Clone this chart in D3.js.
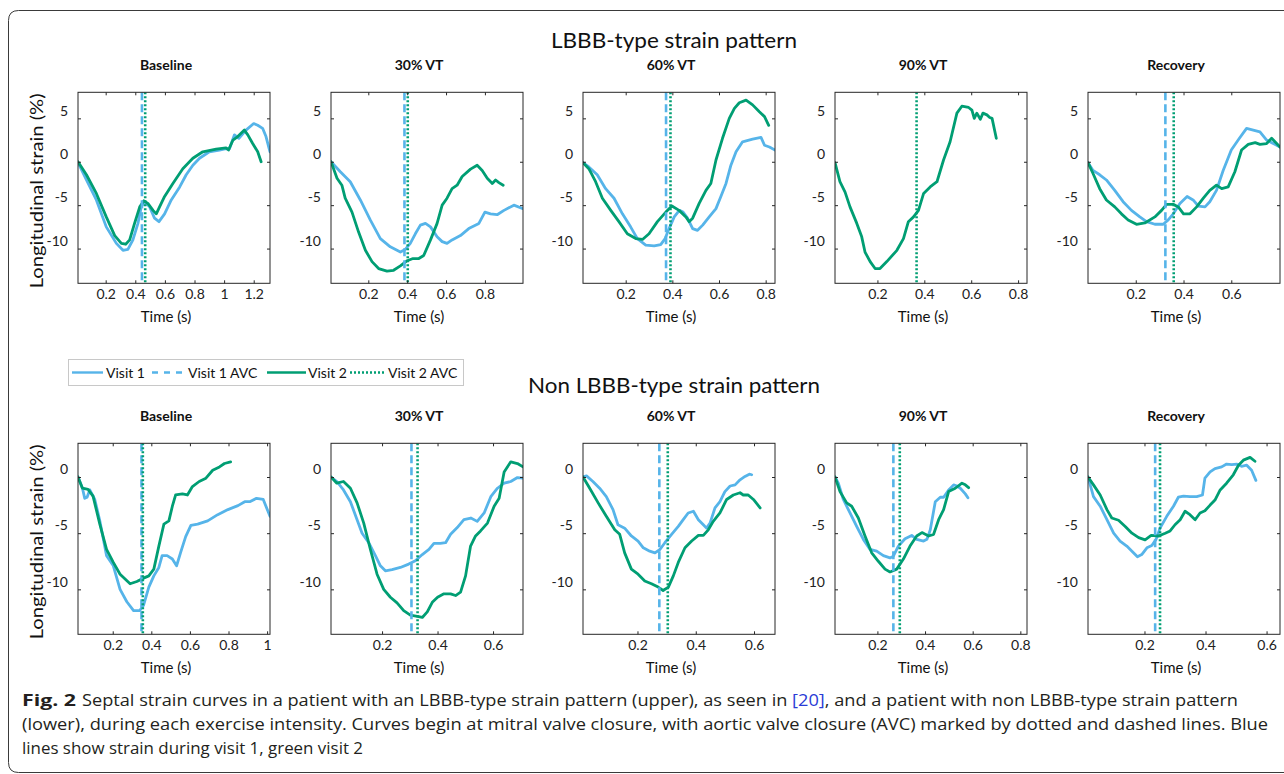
<!DOCTYPE html>
<html><head><meta charset="utf-8">
<script src="https://cdn.jsdelivr.net/npm/d3@7"></script>
<style>body{margin:0;background:#fff;} svg{display:block;}</style>
</head><body>
<svg id="c" width="1284" height="774"></svg>
<script>
// ---------------- DATA ----------------
const rowTitles = ["LBBB-type strain pattern", "Non LBBB-type strain pattern"];
const panelTitles = ["Baseline", "30% VT", "60% VT", "90% VT", "Recovery"];
const seriesNames = ["Visit 1", "Visit 1 AVC", "Visit 2", "Visit 2 AVC"];

const yTicksTop = [-10, -5, 0, 5];
const yTicksBottom = [-10, -5, 0];
const yDomainTop = [-14, 8];
const yDomainBottom = [-14, 3];

const xDomainsTop = [[0.013, 1.31], [0.008, 0.996], [0.017, 0.84], [0.019, 0.838], [0.0, 0.804]];
const xDomainsBottom = [[0.02, 1.015], [0.016, 0.708], [0.013, 0.672], [0.022, 0.828], [0.015, 0.644]];
const xTicksTop = [[0.2, 0.4, 0.6, 0.8, 1, 1.2], [0.2, 0.4, 0.6, 0.8], [0.2, 0.4, 0.6, 0.8], [0.2, 0.4, 0.6, 0.8], [0.2, 0.4, 0.6]];
const xTicksBottom = [[0.2, 0.4, 0.6, 0.8, 1], [0.2, 0.4, 0.6], [0.2, 0.4, 0.6], [0.2, 0.4, 0.6, 0.8], [0.2, 0.4, 0.6]];

// AVC times [visit1, visit2] (null = not shown)
const avcTop = [[0.445, 0.467], [0.386, 0.403], [0.373, 0.392], [null, 0.367], [0.324, 0.359]];
const avcBottom = [[0.349, 0.356], [0.306, 0.328], [0.275, 0.304], [0.267, 0.294], [0.235, 0.251]];

// LBBB-type (upper row) strain curves [time s, strain %]
const lbbbBaselineV1 = [[0.013,-0.1],[0.07,-2.1],[0.137,-4.4],[0.204,-7.5],[0.272,-9.4],[0.317,-10.2],[0.35,-10.1],[0.384,-9.0],[0.418,-7.1],[0.44,-5.2],[0.463,-4.6],[0.497,-5.2],[0.53,-6.5],[0.56,-6.9],[0.598,-6.0],[0.643,-4.4],[0.7,-2.9],[0.744,-1.5],[0.789,-0.4],[0.834,0.4],[0.9,1.15],[0.969,1.35],[1.013,1.5],[1.036,1.5],[1.07,3.1],[1.1,2.7],[1.148,3.65],[1.2,4.4],[1.227,4.2],[1.26,3.85],[1.283,2.9],[1.31,1.15]];
const lbbbBaselineV2 = [[0.013,0],[0.07,-1.5],[0.137,-3.65],[0.204,-6.35],[0.261,-8.5],[0.306,-9.4],[0.335,-9.5],[0.362,-9.0],[0.395,-7.1],[0.43,-5.2],[0.458,-4.5],[0.485,-4.8],[0.52,-5.6],[0.542,-6.0],[0.564,-5.2],[0.598,-4.0],[0.654,-2.5],[0.721,-0.8],[0.789,0.4],[0.856,1.15],[0.946,1.45],[1.013,1.6],[1.03,1.35],[1.06,2.5],[1.092,2.9],[1.137,3.65],[1.16,3.1],[1.193,2.1],[1.227,1.15],[1.25,0]];
const lbbb30V1 = [[0.008,0],[0.056,-1.15],[0.107,-2.3],[0.159,-4.4],[0.21,-6.7],[0.262,-8.85],[0.313,-9.8],[0.365,-10.4],[0.39,-10.1],[0.416,-9.4],[0.442,-8.3],[0.468,-7.3],[0.494,-7.1],[0.52,-7.5],[0.554,-8.65],[0.58,-9.2],[0.605,-9.4],[0.631,-9.0],[0.674,-8.5],[0.717,-7.7],[0.769,-7.1],[0.8,-5.8],[0.829,-6.0],[0.863,-6.1],[0.898,-5.6],[0.949,-5.0],[0.996,-5.4]];
const lbbb30V2 = [[0.008,0],[0.039,-1.9],[0.064,-2.7],[0.081,-4.2],[0.116,-5.8],[0.15,-8.1],[0.185,-10.2],[0.219,-11.5],[0.253,-12.3],[0.296,-12.6],[0.33,-12.5],[0.365,-12.0],[0.4,-11.4],[0.43,-11.15],[0.46,-11.15],[0.485,-10.8],[0.52,-9.0],[0.554,-7.1],[0.58,-5.0],[0.605,-4.2],[0.631,-3.1],[0.657,-2.7],[0.683,-1.7],[0.726,-0.85],[0.76,-0.4],[0.786,-1.0],[0.812,-1.9],[0.838,-2.5],[0.855,-2.1],[0.872,-2.4],[0.894,-2.7]];
const lbbb60V1 = [[0.017,-0.1],[0.042,-0.6],[0.078,-1.5],[0.114,-3.1],[0.15,-4.2],[0.186,-6.0],[0.221,-7.5],[0.25,-8.85],[0.286,-9.6],[0.322,-9.7],[0.35,-9.55],[0.369,-8.85],[0.386,-7.7],[0.408,-6.35],[0.43,-5.6],[0.446,-5.8],[0.465,-6.5],[0.487,-7.7],[0.508,-7.9],[0.53,-7.3],[0.558,-6.35],[0.587,-5.4],[0.608,-4.0],[0.63,-2.5],[0.651,-0.4],[0.673,1.15],[0.701,2.3],[0.744,2.6],[0.78,2.8],[0.795,1.9],[0.816,1.7],[0.84,1.35]];
const lbbb60V2 = [[0.017,-0.1],[0.042,-0.8],[0.071,-2.3],[0.1,-4.2],[0.136,-5.6],[0.171,-6.9],[0.207,-8.3],[0.243,-8.85],[0.272,-8.95],[0.3,-8.3],[0.336,-6.9],[0.372,-5.8],[0.398,-5.1],[0.429,-5.6],[0.458,-6.35],[0.472,-6.9],[0.487,-6.5],[0.515,-4.8],[0.544,-3.3],[0.565,-2.5],[0.587,0.2],[0.615,2.7],[0.644,5.0],[0.666,6.15],[0.687,6.8],[0.716,7.1],[0.744,6.55],[0.773,5.75],[0.795,5.2],[0.813,4.2]];
const lbbb90V2 = [[0.019,-0.1],[0.04,-2.3],[0.062,-3.5],[0.083,-5.2],[0.112,-7.1],[0.133,-8.65],[0.147,-10.4],[0.169,-11.5],[0.19,-12.3],[0.211,-12.3],[0.24,-11.5],[0.283,-10.2],[0.311,-8.85],[0.332,-6.9],[0.354,-6.35],[0.375,-5.6],[0.397,-3.65],[0.425,-2.9],[0.454,-2.3],[0.482,0.2],[0.51,2.3],[0.539,5.6],[0.56,6.4],[0.589,6.25],[0.603,5.95],[0.613,5.0],[0.624,5.6],[0.639,4.9],[0.65,5.6],[0.667,5.4],[0.679,5.1],[0.689,5.0],[0.707,2.7]];
const lbbbRecV1 = [[0.0,-0.1],[0.021,-1.0],[0.049,-1.5],[0.077,-2.1],[0.112,-3.3],[0.147,-4.6],[0.182,-5.6],[0.217,-6.35],[0.245,-6.9],[0.28,-7.2],[0.315,-7.2],[0.336,-6.7],[0.357,-6.0],[0.385,-4.8],[0.415,-4.0],[0.44,-4.4],[0.462,-5.1],[0.49,-5.2],[0.51,-4.6],[0.538,-3.3],[0.566,-1.0],[0.6,1.35],[0.634,2.7],[0.664,3.85],[0.692,3.65],[0.72,3.45],[0.748,2.5],[0.776,2.1],[0.804,1.7]];
const lbbbRecV2 = [[0.0,-0.1],[0.021,-1.35],[0.049,-3.1],[0.077,-4.4],[0.112,-5.2],[0.14,-6.0],[0.168,-6.7],[0.203,-7.2],[0.238,-7.05],[0.28,-6.35],[0.308,-5.6],[0.329,-4.9],[0.357,-4.9],[0.378,-5.2],[0.4,-6.0],[0.427,-6.0],[0.455,-5.2],[0.483,-4.2],[0.51,-3.3],[0.538,-2.7],[0.56,-3.1],[0.587,-2.9],[0.615,-1.15],[0.643,1.35],[0.671,2.0],[0.7,2.2],[0.72,2.0],[0.748,2.1],[0.769,2.7],[0.783,2.3],[0.804,1.7]];

// Non LBBB-type (lower row)
const nonBaselineV1 = [[0.02,0],[0.043,-1.0],[0.055,-1.9],[0.067,-1.8],[0.081,-1.15],[0.107,-2.0],[0.133,-3.9],[0.168,-7.0],[0.203,-7.9],[0.238,-10.0],[0.273,-11.1],[0.308,-11.9],[0.339,-11.9],[0.36,-11.4],[0.387,-9.8],[0.413,-8.8],[0.439,-8.05],[0.456,-7.0],[0.482,-7.0],[0.509,-7.3],[0.531,-7.9],[0.552,-6.7],[0.578,-5.3],[0.605,-4.3],[0.64,-4.2],[0.692,-3.9],[0.744,-3.35],[0.797,-2.9],[0.849,-2.55],[0.884,-2.2],[0.91,-2.2],[0.945,-1.9],[0.98,-2.0],[1.015,-3.5]];
const nonBaselineV2 = [[0.02,0],[0.043,-1.0],[0.072,-1.1],[0.098,-1.7],[0.133,-4.2],[0.168,-6.45],[0.203,-7.6],[0.238,-8.65],[0.29,-9.5],[0.325,-9.3],[0.36,-9.0],[0.387,-8.8],[0.413,-8.2],[0.439,-6.15],[0.465,-4.2],[0.491,-3.9],[0.509,-2.6],[0.526,-1.6],[0.561,-1.5],[0.587,-1.6],[0.613,-0.85],[0.648,-0.4],[0.683,-0.1],[0.718,0.6],[0.753,0.9],[0.779,1.2],[0.811,1.35]];
const non30V1 = [[0.016,0],[0.037,-0.4],[0.061,-1.15],[0.086,-2.2],[0.11,-3.8],[0.128,-5.0],[0.152,-5.85],[0.176,-7.0],[0.194,-7.9],[0.212,-8.35],[0.236,-8.25],[0.266,-8.05],[0.296,-7.75],[0.32,-7.45],[0.345,-6.9],[0.369,-6.45],[0.387,-5.9],[0.41,-5.9],[0.429,-5.85],[0.447,-5.1],[0.471,-4.5],[0.495,-3.8],[0.52,-3.65],[0.543,-3.95],[0.568,-3.2],[0.592,-1.75],[0.616,-1.0],[0.64,-0.55],[0.664,-0.4],[0.688,-0.05],[0.708,-0.1]];
const non30V2 = [[0.016,0],[0.037,-0.55],[0.061,-0.4],[0.086,-1.0],[0.11,-2.3],[0.134,-4.1],[0.158,-6.45],[0.182,-8.65],[0.206,-10.0],[0.23,-10.7],[0.254,-11.2],[0.278,-11.9],[0.302,-12.3],[0.327,-12.4],[0.345,-12.5],[0.363,-12.0],[0.381,-11.15],[0.4,-10.7],[0.423,-10.4],[0.447,-10.4],[0.465,-10.55],[0.483,-10.25],[0.501,-8.8],[0.519,-6.15],[0.537,-5.25],[0.555,-4.8],[0.58,-4.1],[0.604,-2.6],[0.622,-1.9],[0.64,0.45],[0.664,1.35],[0.688,1.2],[0.708,0.9]];
const non60V1 = [[0.013,0],[0.025,0.1],[0.047,-0.4],[0.07,-1.0],[0.093,-1.75],[0.116,-2.9],[0.133,-4.25],[0.156,-4.55],[0.179,-5.25],[0.202,-5.7],[0.22,-6.3],[0.242,-6.6],[0.26,-6.75],[0.277,-6.45],[0.294,-5.85],[0.317,-5.1],[0.34,-4.4],[0.357,-3.8],[0.374,-3.2],[0.392,-3.05],[0.409,-3.8],[0.426,-4.25],[0.437,-4.55],[0.449,-4.1],[0.466,-2.75],[0.483,-2.2],[0.5,-1.3],[0.518,-0.8],[0.535,-0.7],[0.552,-0.25],[0.569,0.05],[0.584,0.25],[0.592,0.2]];
const non60V2 = [[0.013,0],[0.036,-1.0],[0.065,-2.3],[0.093,-3.5],[0.122,-4.7],[0.139,-5.1],[0.156,-6.75],[0.179,-8.2],[0.202,-8.65],[0.225,-9.25],[0.248,-9.5],[0.271,-9.8],[0.288,-10.1],[0.306,-9.8],[0.323,-8.8],[0.34,-7.6],[0.363,-6.3],[0.386,-5.7],[0.409,-5.2],[0.426,-5.2],[0.443,-4.7],[0.46,-3.95],[0.483,-3.2],[0.506,-2.0],[0.529,-1.6],[0.552,-1.4],[0.563,-1.6],[0.58,-1.6],[0.598,-2.0],[0.621,-2.75]];
const non90V1 = [[0.022,0],[0.036,-0.55],[0.057,-2.0],[0.085,-3.2],[0.113,-4.4],[0.141,-5.55],[0.169,-6.45],[0.197,-6.6],[0.225,-7.0],[0.253,-7.2],[0.267,-7.05],[0.288,-6.15],[0.316,-5.5],[0.344,-5.2],[0.365,-5.55],[0.394,-5.7],[0.408,-5.55],[0.422,-4.7],[0.443,-2.2],[0.464,-1.8],[0.478,-1.8],[0.499,-1.15],[0.52,-0.7],[0.534,-0.8],[0.548,-1.0],[0.569,-1.5],[0.58,-1.85]];
const non90V2 = [[0.022,0],[0.043,-1.3],[0.071,-2.3],[0.092,-2.6],[0.12,-3.65],[0.148,-5.25],[0.176,-6.75],[0.204,-7.5],[0.232,-8.2],[0.253,-8.45],[0.281,-8.2],[0.309,-7.3],[0.337,-6.15],[0.365,-5.25],[0.387,-4.95],[0.415,-5.25],[0.436,-5.1],[0.457,-3.8],[0.478,-2.9],[0.499,-1.3],[0.527,-1.0],[0.555,-0.55],[0.569,-0.7],[0.583,-0.95]];
const nonRecV1 = [[0.015,0],[0.033,-1.75],[0.055,-2.6],[0.077,-3.8],[0.099,-5.0],[0.12,-5.7],[0.142,-6.15],[0.159,-6.6],[0.177,-7.1],[0.191,-6.9],[0.208,-6.3],[0.224,-6.1],[0.238,-5.55],[0.251,-4.55],[0.273,-3.5],[0.295,-2.6],[0.311,-1.8],[0.328,-1.7],[0.349,-1.75],[0.371,-1.75],[0.39,-1.6],[0.398,-0.1],[0.415,0.45],[0.431,0.75],[0.453,0.9],[0.469,1.15],[0.486,1.1],[0.502,1.15],[0.518,0.95],[0.535,1.05],[0.551,0.6],[0.565,-0.3]];
const nonRecV2 = [[0.015,0],[0.033,-0.7],[0.055,-1.6],[0.077,-2.9],[0.093,-3.65],[0.115,-3.85],[0.137,-4.4],[0.159,-5.0],[0.181,-5.4],[0.202,-5.6],[0.222,-5.2],[0.246,-5.25],[0.268,-5.0],[0.284,-4.8],[0.3,-4.25],[0.317,-3.8],[0.333,-3.05],[0.349,-3.35],[0.366,-3.8],[0.382,-3.2],[0.398,-3.0],[0.415,-2.5],[0.431,-2.05],[0.448,-1.15],[0.469,-0.55],[0.491,0.2],[0.508,1.05],[0.524,1.5],[0.546,1.75],[0.562,1.4]];

const curvesTop = [[lbbbBaselineV1, lbbbBaselineV2], [lbbb30V1, lbbb30V2], [lbbb60V1, lbbb60V2], [null, lbbb90V2], [lbbbRecV1, lbbbRecV2]];
const curvesBottom = [[nonBaselineV1, nonBaselineV2], [non30V1, non30V2], [non60V1, non60V2], [non90V1, non90V2], [nonRecV1, nonRecV2]];

// ---------------- STYLE / LAYOUT ----------------
const BLUE = "#56B4E9", GREEN = "#009E73", AXC = "#262626";
const FONT = "Lato, 'Open Sans', sans-serif";
const boxLefts = [78, 331, 583, 835, 1088];
const boxW = 192, boxH = 191;
const rowTops = [92.3, 443.3];

const svg = d3.select("#c");
svg.append("rect").attr("width", 1284).attr("height", 774).attr("fill", "#fff");

// figure frame
svg.append("path")
  .attr("d", "M1290,10.5 H18.5 Q8.5,10.5 8.5,20.5 V762.5 Q8.5,772.5 18.5,772.5 H1290")
  .attr("fill", "none").attr("stroke", "#3a3a3a").attr("stroke-width", 1);

let clipId = 0;
function drawPanel(row, col) {
  const left = boxLefts[col], top = rowTops[row];
  const xDom = row === 0 ? xDomainsTop[col] : xDomainsBottom[col];
  const yDom = row === 0 ? yDomainTop : yDomainBottom;
  const xt = row === 0 ? xTicksTop[col] : xTicksBottom[col];
  const yt = row === 0 ? yTicksTop : yTicksBottom;
  const curves = row === 0 ? curvesTop[col] : curvesBottom[col];
  const avc = row === 0 ? avcTop[col] : avcBottom[col];

  const x = d3.scaleLinear().domain(xDom).range([left, left + boxW]);
  const y = d3.scaleLinear().domain(yDom).range([top + boxH, top]);
  const g = svg.append("g");

  const cid = "clip" + (clipId++);
  g.append("clipPath").attr("id", cid).append("rect")
    .attr("x", left).attr("y", top).attr("width", boxW).attr("height", boxH);
  const plot = g.append("g").attr("clip-path", `url(#${cid})`);

  const line = d3.line().x(d => x(d[0])).y(d => y(d[1]));
  [[curves[0], BLUE], [curves[1], GREEN]].forEach(([data, c]) => {
    if (!data) return;
    plot.append("path").attr("d", line(data)).attr("fill", "none")
      .attr("stroke", c).attr("stroke-width", 2.8)
      .attr("stroke-linejoin", "round").attr("stroke-linecap", "round");
  });
  if (avc[0] !== null) {
    plot.append("line").attr("x1", x(avc[0])).attr("x2", x(avc[0]))
      .attr("y1", top).attr("y2", top + boxH)
      .attr("stroke", BLUE).attr("stroke-width", 2.6).attr("stroke-dasharray", "8,4");
  }
  if (avc[1] !== null) {
    plot.append("line").attr("x1", x(avc[1])).attr("x2", x(avc[1]))
      .attr("y1", top).attr("y2", top + boxH)
      .attr("stroke", GREEN).attr("stroke-width", 2.6).attr("stroke-dasharray", "2,2");
  }

  // axes with inward ticks
  const fmt = d => String(d);
  g.append("g").attr("transform", `translate(0,${top + boxH})`)
    .call(d3.axisBottom(x).tickValues(xt).tickSize(-3).tickPadding(6).tickFormat(fmt));
  g.append("g").attr("transform", `translate(0,${top})`)
    .call(d3.axisTop(x).tickValues(xt).tickSize(-3).tickFormat(""));
  const ay = g.append("g").attr("transform", `translate(${left},0)`)
    .call(d3.axisLeft(y).tickValues(yt).tickSize(-3).tickPadding(10).tickFormat(fmt));
  g.append("g").attr("transform", `translate(${left + boxW},0)`)
    .call(d3.axisRight(y).tickValues(yt).tickSize(-3).tickFormat(""));
  g.selectAll(".domain").remove();
  g.selectAll(".tick line").attr("stroke", AXC);
  g.selectAll(".tick text").attr("font-family", FONT).attr("font-size", 14).attr("fill", "#222");
  ay.selectAll(".tick text").attr("dy", "-3.3");

  g.append("rect").attr("x", left).attr("y", top).attr("width", boxW).attr("height", boxH)
    .attr("fill", "none").attr("stroke", AXC).attr("stroke-width", 1);

  const cx = left + boxW / 2 - 8;
  g.append("text").attr("x", cx).attr("y", top - 22.5).attr("text-anchor", "middle")
    .attr("font-family", FONT).attr("font-weight", "bold").attr("font-size", 14)
    .attr("fill", "#111").text(panelTitles[col]);
  g.append("text").attr("x", cx).attr("y", top + boxH + 39).attr("text-anchor", "middle")
    .attr("font-family", FONT).attr("font-size", 15).attr("fill", "#111").text("Time (s)");

  if (col === 0) {
    const cy = top + boxH / 2 + 3;
    g.append("text").attr("transform", `translate(43,${cy}) rotate(-90)`)
      .attr("text-anchor", "middle").attr("font-family", FONT).attr("font-size", 18)
      .attr("fill", "#111").attr("textLength", 195).attr("lengthAdjust", "spacingAndGlyphs")
      .text("Longitudinal strain (%)");
  }
}

for (let r = 0; r < 2; r++) for (let c = 0; c < 5; c++) drawPanel(r, c);

// row titles
svg.append("text").attr("x", 674).attr("y", 47.5).attr("text-anchor", "middle")
  .attr("font-family", FONT).attr("font-size", 21).attr("fill", "#111")
  .attr("textLength", 246).attr("lengthAdjust", "spacingAndGlyphs").text(rowTitles[0]);
svg.append("text").attr("x", 674).attr("y", 392.5).attr("text-anchor", "middle")
  .attr("font-family", FONT).attr("font-size", 21).attr("fill", "#111")
  .attr("textLength", 292).attr("lengthAdjust", "spacingAndGlyphs").text(rowTitles[1]);

// legend
const lg = svg.append("g");
lg.append("rect").attr("x", 68.5).attr("y", 359.5).attr("width", 395).attr("height", 26)
  .attr("fill", "#fff").attr("stroke", "#c8c8c8").attr("stroke-width", 1);
const legItems = [
  { x1: 72, x2: 103, tx: 106, c: BLUE, dash: null, label: seriesNames[0] },
  { x1: 152, x2: 183, tx: 188, c: BLUE, dash: "6,6", label: seriesNames[1] },
  { x1: 267, x2: 306, tx: 308, c: GREEN, dash: null, label: seriesNames[2] },
  { x1: 350, x2: 384, tx: 388, c: GREEN, dash: "2,2", label: seriesNames[3] }
];
legItems.forEach(it => {
  const l = lg.append("line").attr("x1", it.x1).attr("x2", it.x2).attr("y1", 372.5).attr("y2", 372.5)
    .attr("stroke", it.c).attr("stroke-width", 2.4);
  if (it.dash) l.attr("stroke-dasharray", it.dash);
  lg.append("text").attr("x", it.tx).attr("y", 377.5).attr("font-family", FONT)
    .attr("font-size", 14).attr("fill", "#111").text(it.label);
});

// caption
const CF = "'Open Sans', 'Noto Sans', sans-serif";
const CC = "#231f20";
svg.append("text").attr("x", 22).attr("y", 705.5).attr("font-family", CF).attr("font-weight", "bold")
  .attr("font-size", 16).attr("fill", CC).attr("textLength", 54).attr("lengthAdjust", "spacingAndGlyphs")
  .text("Fig. 2");
const c1 = svg.append("text").attr("x", 82).attr("y", 705.5).attr("font-family", CF)
  .attr("font-size", 16).attr("fill", CC).attr("textLength", 1156).attr("lengthAdjust", "spacingAndGlyphs");
c1.append("tspan").text("Septal strain curves in a patient with an LBBB-type strain pattern (upper), as seen in ");
c1.append("tspan").attr("fill", "#2a3bd6").text("[20]");
c1.append("tspan").text(", and a patient with non LBBB-type strain pattern");
svg.append("text").attr("x", 22).attr("y", 729.5).attr("font-family", CF)
  .attr("font-size", 16).attr("fill", CC).attr("textLength", 1246).attr("lengthAdjust", "spacingAndGlyphs")
  .text("(lower), during each exercise intensity. Curves begin at mitral valve closure, with aortic valve closure (AVC) marked by dotted and dashed lines. Blue");
svg.append("text").attr("x", 22).attr("y", 753.5).attr("font-family", CF)
  .attr("font-size", 16).attr("fill", CC).attr("textLength", 341).attr("lengthAdjust", "spacingAndGlyphs")
  .text("lines show strain during visit 1, green visit 2");
</script></body></html>
